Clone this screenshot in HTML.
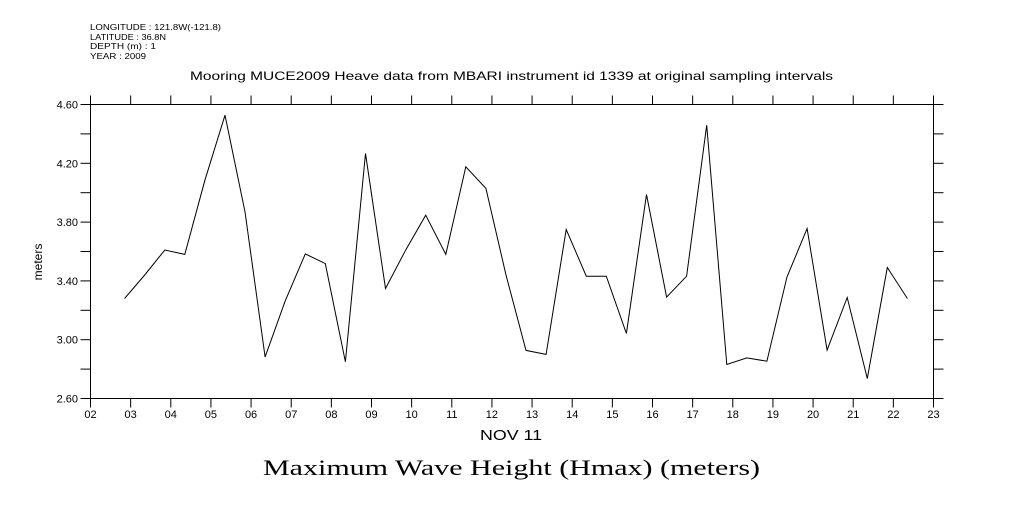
<!DOCTYPE html>
<html><head><meta charset="utf-8"><style>
body{margin:0;background:#fff;width:1009px;height:504px;overflow:hidden}
svg text{font-family:"Liberation Sans",sans-serif;fill:#000}
</style></head><body>
<svg width="1009" height="504" viewBox="0 0 1009 504">
<g font-size="8">
<text x="90" y="30" textLength="131" lengthAdjust="spacingAndGlyphs">LONGITUDE : 121.8W(-121.8)</text>
<text x="90" y="40" textLength="76" lengthAdjust="spacingAndGlyphs">LATITUDE : 36.8N</text>
<text x="90" y="49" textLength="66" lengthAdjust="spacingAndGlyphs">DEPTH (m) : 1</text>
<text x="90" y="59" textLength="56" lengthAdjust="spacingAndGlyphs">YEAR : 2009</text>
</g>
<text x="190" y="80" font-size="12" textLength="643" lengthAdjust="spacingAndGlyphs">Mooring MUCE2009 Heave data from MBARI instrument id 1339 at original sampling intervals</text>
<rect x="90.5" y="104.5" width="843" height="294" fill="none" stroke="#000" stroke-width="1"/>
<g id="axes"></g>
<polyline id="line" fill="none" stroke="#000" stroke-width="1"/>
<text transform="translate(42,262) rotate(-90)" font-size="12" text-anchor="middle">meters</text>
<text x="480" y="440" font-size="15" textLength="62" lengthAdjust="spacingAndGlyphs">NOV 11</text>
<text x="263" y="475" font-size="22" textLength="497" lengthAdjust="spacingAndGlyphs" style="font-family:'Liberation Serif',serif">Maximum Wave Height (Hmax) (meters)</text>
</svg>
<script>
const startHour = 2.85;
const stepHour = 0.5;
const values = [3.28,3.44,3.61,3.58,4.085,4.527,3.87,2.883,3.264,3.584,3.518,2.85,4.267,3.348,3.609,3.847,3.58,4.176,4.029,3.44,2.927,2.9,3.75,3.432,3.432,3.042,3.988,3.29,3.432,4.459,2.831,2.876,2.854,3.427,3.756,2.929,3.287,2.736,3.491,3.28];
const xTicks = ["02","03","04","05","06","07","08","09","10","11","12","13","14","15","16","17","18","19","20","21","22","23"];
const yTicks = [2.6,2.8,3.0,3.2,3.4,3.6,3.8,4.0,4.2,4.4,4.6];
const yLabels = ["2.60","3.00","3.40","3.80","4.20","4.60"];
const X0=90.5,X1=933.5,Y0=398.5,Y1=104.5;
const xs=h=>X0+(h-2)*(X1-X0)/21;
const ys=v=>Y0-(v-2.6)*(Y0-Y1)/2;
const NS="http://www.w3.org/2000/svg";
const ax=document.getElementById('axes');
function ln(x1,y1,x2,y2,name){const l=document.createElementNS(NS,'line');l.setAttribute('x1',x1);l.setAttribute('y1',y1);l.setAttribute('x2',x2);l.setAttribute('y2',y2);l.setAttribute('stroke','#000');


ax.appendChild(l);}
function tx(x,y,s,anchor,name){const t=document.createElementNS(NS,'text');t.setAttribute('x',x);t.setAttribute('y',y);t.setAttribute('font-size','11');t.setAttribute('text-anchor',anchor);t.textContent=s;


ax.appendChild(t);}
xTicks.forEach((s,i)=>{const x=xs(2+i);ln(x,Y0,x,Y0+9,'x-tick');ln(x,Y1,x,Y1-9,'x-tick-top');tx(x,418,s,'middle','x-tick-label');});
yTicks.forEach(v=>{const y=ys(v);ln(X0,y,X0-10,y,'y-tick');ln(X1,y,X1+10,y,'y-tick-right');});
yLabels.forEach(s=>{tx(78,ys(parseFloat(s))+4,s,'end','y-tick-label');});
document.getElementById('line').setAttribute('points',values.map((v,i)=>xs(startHour+i*stepHour).toFixed(1)+','+ys(v).toFixed(1)).join(' '));
</script>
</body></html>
